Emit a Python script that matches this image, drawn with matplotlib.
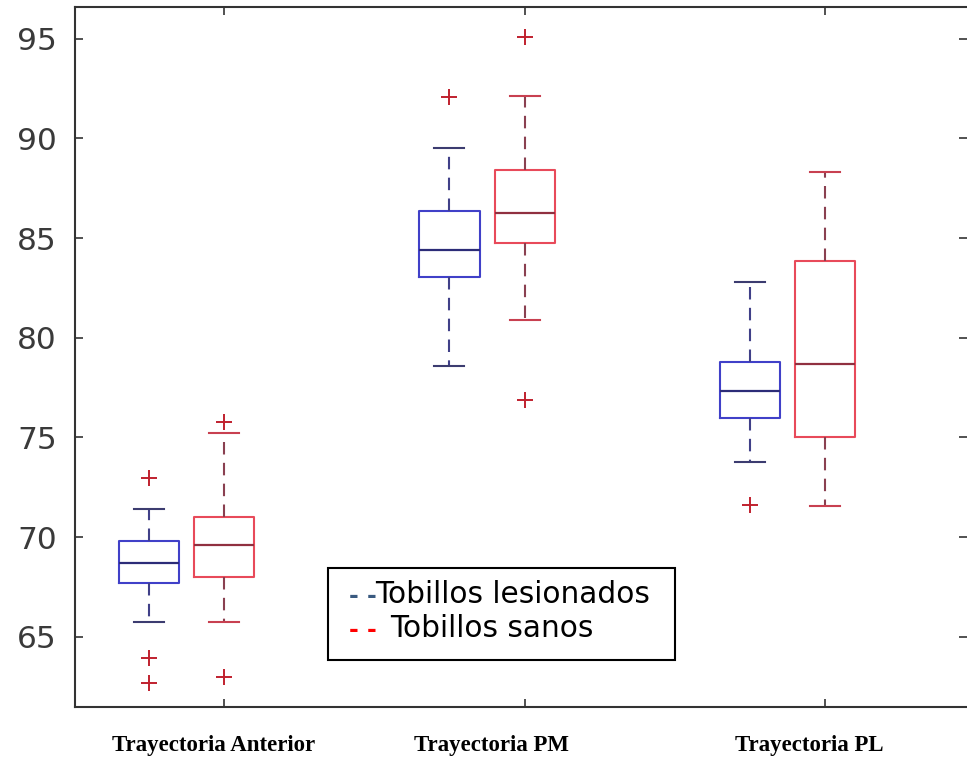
import matplotlib.pyplot as plt
from matplotlib.patches import Rectangle

#1. Datos
grupos = ['Trayectoria Anterior', 'Trayectoria PM', 'Trayectoria PL']

les_med = [68.7, 84.4, 77.35]
les_q1 = [67.7, 83.05, 76.0]
les_q3 = [69.8, 86.35, 78.8]
les_lo = [65.75, 78.6, 73.75]
les_hi = [71.4, 89.5, 82.8]
les_out = [[72.95, 63.95, 62.7], [92.05], [71.6]]

san_med = [69.6, 86.25, 78.7]
san_q1 = [68.0, 84.75, 75.0]
san_q3 = [71.0, 88.4, 83.85]
san_lo = [65.75, 80.9, 71.55]
san_hi = [75.25, 92.1, 88.3]
san_out = [[75.8, 63.0], [95.1, 76.9], []]

y_ticks = [65, 70, 75, 80, 85, 90, 95]

W, H = 967, 758
fig = plt.figure(figsize=(W / 100, H / 100), dpi=100)
ax = fig.add_axes([75 / W, 1 - 707 / H, (W - 75) / W, 700 / H])


def stats(med, q1, q3, lo, hi, out):
    return [dict(med=m, q1=a, q3=b, whislo=l, whishi=h, fliers=f)
            for m, a, b, l, h, f in zip(med, q1, q3, lo, hi, out)]


def dibujar(st, pos, c_box, c_med, c_whis, c_cap):
    ax.bxp(st, positions=pos, widths=0.2, showfliers=True,
           boxprops=dict(color=c_box, lw=1.5),
           medianprops=dict(color=c_med, lw=1.6),
           whiskerprops=dict(color=c_whis, lw=1.5, linestyle=(0, (6, 4))),
           capprops=dict(color=c_cap, lw=1.5),
           capwidths=0.1,
           flierprops=dict(marker='+', markeredgecolor='#c0202e',
                           markersize=11, markeredgewidth=1.4))


#2. Cajas
pos_les = [1, 2, 3]
pos_san = [p + 0.25 for p in pos_les]
dibujar(stats(les_med, les_q1, les_q3, les_lo, les_hi, les_out), pos_les,
        '#4040c8', '#2c2c78', '#404088', '#3c3c70')
dibujar(stats(san_med, san_q1, san_q3, san_lo, san_hi, san_out), pos_san,
        '#e84a5a', '#903040', '#8a4050', '#c84050')

#3. Ejes
ax.set_xlim(0.754, 3.722)
ax.set_ylim(61.49, 96.58)
ax.set_yticks(y_ticks)
ax.set_xticks(pos_san)
ax.set_xticklabels([])
ax.tick_params(axis='both', direction='in', length=6, width=1.2, color='#333333',
               labelsize=22.5, labelcolor='#3a3a3a', pad=13, top=True)
ax.tick_params(axis='y', right=True)
for t in ax.yaxis.get_major_ticks():
    t.tick2line.set_color('#c8c8c8')
for s in ['left', 'bottom', 'top']:
    ax.spines[s].set_linewidth(1.5)
    ax.spines[s].set_color('#333333')
ax.spines['right'].set_visible(False)

#4. Etiquetas de categorías
for g, xc in zip(grupos, [214, 491, 809]):
    fig.text(xc / W, 1 - 745 / H, g, ha='center', va='center',
             family='Liberation Serif', weight='bold', fontsize=16.5)

#5. Leyenda (cuadro de texto)
fig.add_artist(Rectangle((328 / W, 1 - 660 / H), 347 / W, 92 / H,
                         transform=fig.transFigure, fill=False,
                         edgecolor='black', lw=1.5))
fs = 21.3
fig.text(349 / W, 1 - 603 / H, '- -', color='#3a5a80', fontsize=fs * 0.8,
         va='baseline', weight='bold')
fig.text(375 / W, 1 - 603 / H, 'Tobillos lesionados', color='black', fontsize=fs, va='baseline')
fig.text(349 / W, 1 - 637 / H, '- -', color='red', fontsize=fs * 0.8,
         va='baseline', weight='bold')
fig.text(390 / W, 1 - 637 / H, 'Tobillos sanos', color='black', fontsize=fs, va='baseline')

plt.savefig('out.png', dpi=100)
